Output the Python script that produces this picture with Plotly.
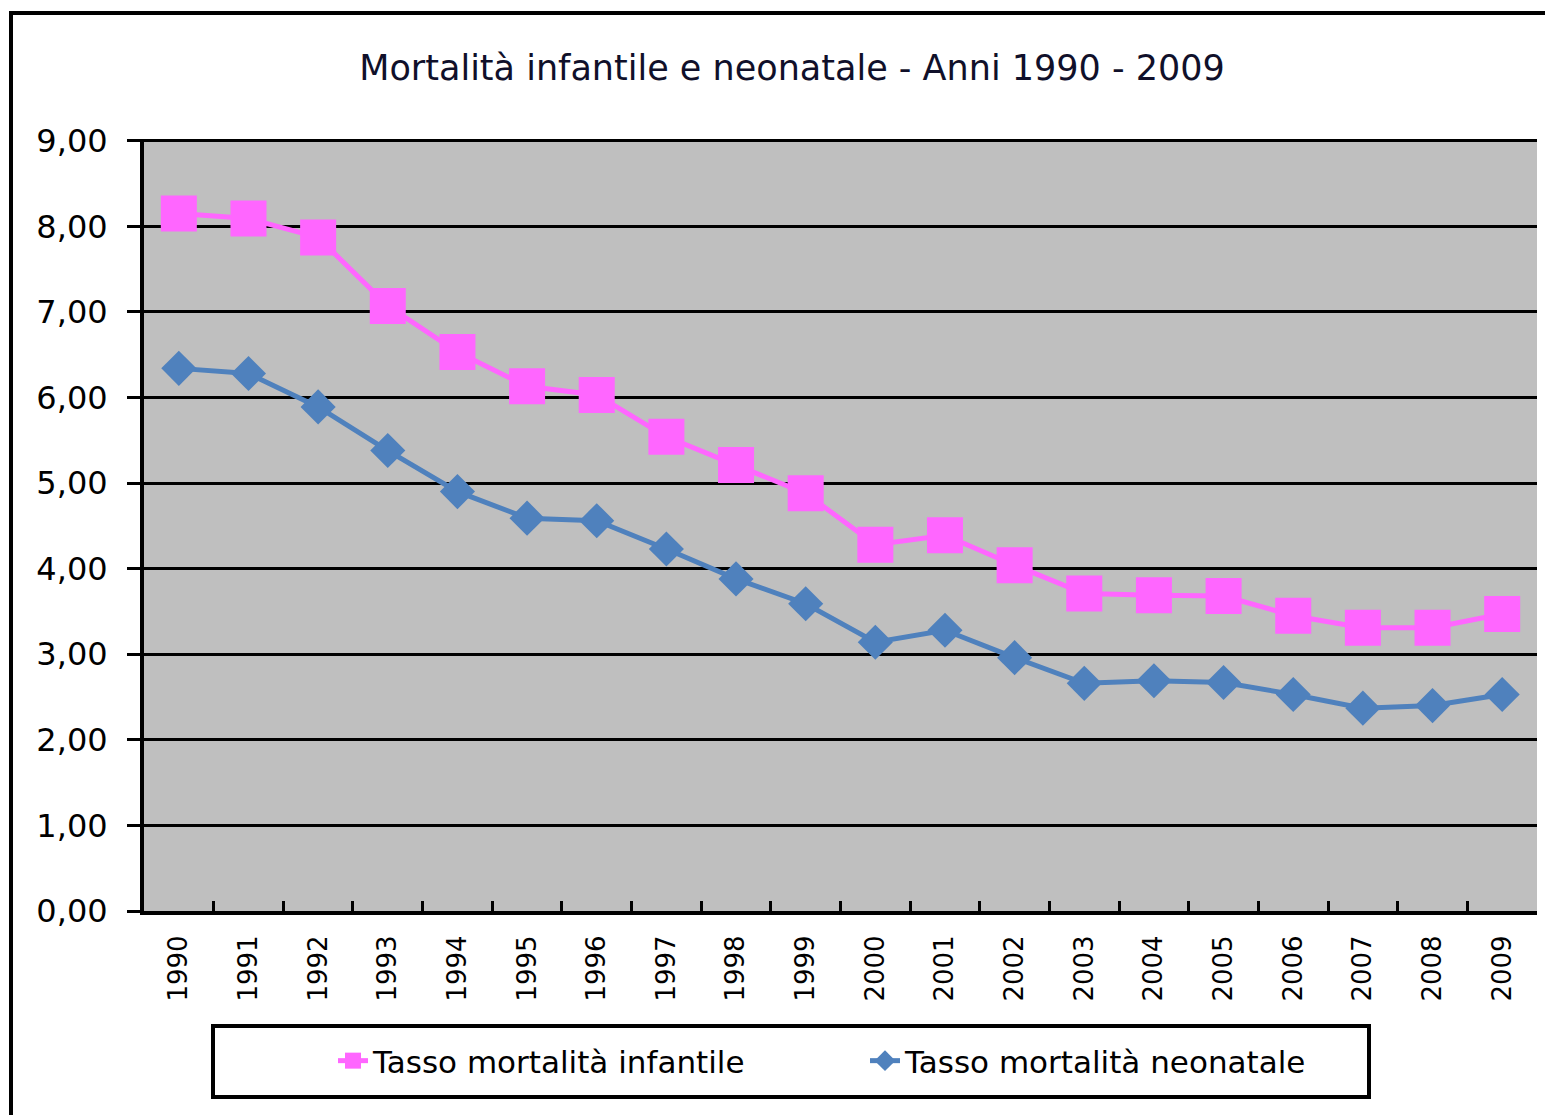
import plotly.graph_objects as go

years = [str(y) for y in range(1990, 2010)]
infantile = [8.15, 8.09, 7.87, 7.07, 6.53, 6.13, 6.03, 5.54, 5.21, 4.88,
             4.28, 4.39, 4.04, 3.71, 3.69, 3.68, 3.45, 3.31, 3.31, 3.47]
neonatale = [6.34, 6.28, 5.89, 5.38, 4.90, 4.59, 4.56, 4.23, 3.88, 3.59,
             3.14, 3.28, 2.96, 2.66, 2.69, 2.67, 2.53, 2.37, 2.40, 2.53]
y_ticks = [0, 1, 2, 3, 4, 5, 6, 7, 8, 9]

# page body has an 8px margin: work in screen coords, convert to figure coords
OFF = 8
W, H = 1553 - OFF, 1115 - OFF
L, R, T, B = 144, 1537, 139, 911          # plot area in screen px
pw, ph = R - L, B - T


def px(x):
    return (x - L) / pw


def py(y):
    return (B - y) / ph


fig = go.Figure()
fig.add_trace(go.Scatter(
    x=years, y=infantile, mode="lines+markers", name="Tasso mortalità infantile",
    line=dict(color="#FF66FF", width=5),
    marker=dict(symbol="square", size=36, color="#FF66FF"),
))
fig.add_trace(go.Scatter(
    x=years, y=neonatale, mode="lines+markers", name="Tasso mortalità neonatale",
    line=dict(color="#4F81BD", width=5),
    marker=dict(symbol="diamond", size=27, color="#4F81BD"),
))

fig.update_layout(
    width=W, height=H,
    margin=dict(l=L - OFF, r=W - (R - OFF), t=T - OFF, b=H - (B - OFF), autoexpand=False),
    paper_bgcolor="white", plot_bgcolor="#BFBFBF",
    separators=",.",
    font=dict(family="DejaVu Sans", color="black"),
    title=dict(text="Mortalità infantile e neonatale - Anni 1990 - 2009",
               x=(792 - OFF) / W, xanchor="center", xref="container",
               y=1 - (68 - OFF) / H, yanchor="middle", yref="container",
               font=dict(size=35, color="#10102a")),
    showlegend=True,
    legend=dict(orientation="h", x=px(333), xanchor="left",
                y=py(1061), yanchor="middle",
                borderwidth=0, bgcolor="rgba(0,0,0,0)",
                font=dict(size=31, color="black"),
                entrywidth=487, entrywidthmode="pixels"),
    xaxis=dict(type="category", range=[-0.5, 19.5], tickangle=-90,
               showline=True, linecolor="black", linewidth=4,
               ticks="inside", tickson="boundaries", ticklen=10, tickwidth=3,
               tickcolor="black", showgrid=False, ticklabelstandoff=10,
               tickfont=dict(size=26, color="black", family="DejaVu Sans")),
    yaxis=dict(range=[0, 9.02], tickvals=y_ticks, tickformat=".2f",
               showline=True, linecolor="black", linewidth=4,
               ticks="outside", ticklen=13, tickwidth=3, tickcolor="black",
               ticklabelstandoff=13,
               showgrid=True, gridcolor="black", gridwidth=3, zeroline=False,
               tickfont=dict(size=32, color="black")),
    shapes=[
        dict(type="rect", xref="paper", yref="paper",
             x0=px(11), x1=px(1600), y0=py(1200), y1=py(13),
             line=dict(color="black", width=4), layer="below"),
        dict(type="rect", xref="paper", yref="paper",
             x0=px(213), x1=px(1369), y0=py(1097), y1=py(1026),
             line=dict(color="black", width=4), fillcolor="white", layer="below"),
    ],
)

fig.write_html("out.html")
